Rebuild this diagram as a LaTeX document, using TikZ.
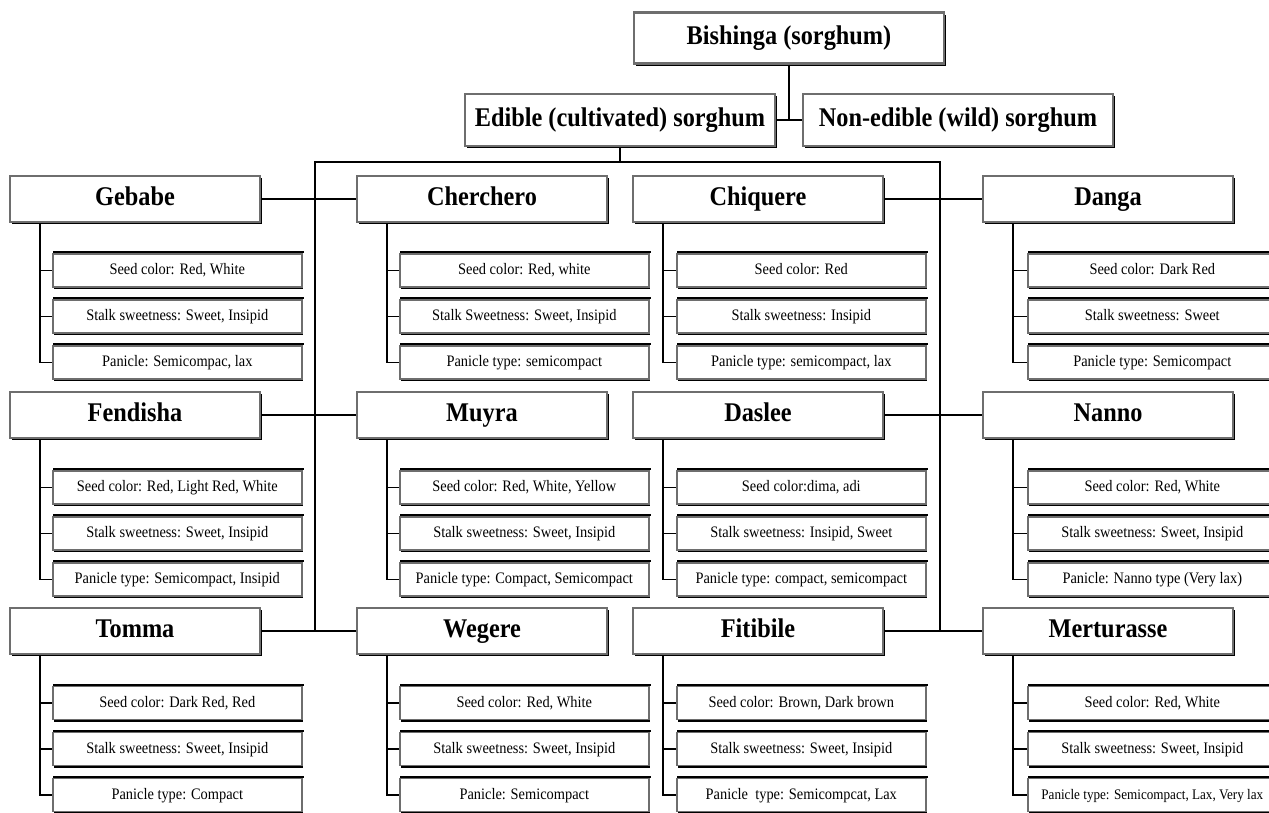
\documentclass[tikz,border=0pt]{standalone}
\usepackage{fontspec}
\setmainfont{Liberation Serif}[FakeStretch=0.9]
\usetikzlibrary{shadows}
\definecolor{boxgray}{RGB}{110,110,110}
\tikzset{
  mainbox/.style={draw=boxgray, line width=2.2pt, fill=white, minimum width=250pt, minimum height=46pt, inner sep=0pt,
    font=\fontsize{27}{30}\selectfont\bfseries, text height=18.5pt, text depth=6pt,
    drop shadow={shadow xshift=2.4pt, shadow yshift=-2.4pt, fill=black, opacity=1}},
  topbox/.style={mainbox, minimum width=310pt, minimum height=51pt},
  subbox/.style={draw=boxgray, line width=1.6pt, fill=white, minimum width=249pt, minimum height=33pt, inner sep=0pt,
    font=\fontsize{16}{18}\selectfont, anchor=west, text height=12pt, text depth=3.5pt,
    drop shadow={shadow xshift=1.5pt, shadow yshift=-2.4pt, fill=black, opacity=1},
    append after command={\pgfextra{\draw[black, line width=2pt] ([xshift=1pt,yshift=1pt]\tikzlastnode.north west) -- ([xshift=1pt,yshift=1pt]\tikzlastnode.north east);}}},
  conn/.style={draw=black, line width=1.2pt}
}
\begin{document}
\begin{tikzpicture}[x=1pt,y=-1pt]
\clip (0,0) rectangle (1269,813);
\fill[white] (0,0) rectangle (1269,813);
% top level
\node[topbox] (bish) at (789,38) {Bishinga (sorghum)};
\node[topbox, minimum height=52pt] (edible) at (620,120) {Edible (cultivated) sorghum};
\node[topbox, minimum height=52pt] (nonedible) at (958,120) {Non-edible (wild) sorghum};
% row 1
\node[mainbox] (gebabe) at (135,199) {Gebabe};
\node[mainbox] (cherchero) at (482,199) {Cherchero};
\node[mainbox] (chiquere) at (758,199) {Chiquere};
\node[mainbox] (danga) at (1108,199) {Danga};
% row 2
\node[mainbox] (fendisha) at (135,415) {Fendisha};
\node[mainbox] (muyra) at (482,415) {Muyra};
\node[mainbox] (daslee) at (758,415) {Daslee};
\node[mainbox] (nanno) at (1108,415) {Nanno};
% row 3
\node[mainbox] (tomma) at (135,631) {Tomma};
\node[mainbox] (wegere) at (482,631) {Wegere};
\node[mainbox] (fitibile) at (758,631) {Fitibile};
\node[mainbox] (merturasse) at (1108,631) {Merturasse};
% sub boxes row 1
\node[subbox] (gebabeA) at (52,270.5) {Seed color: Red, White};
\node[subbox] (gebabeB) at (52,316.5) {Stalk sweetness: Sweet, Insipid};
\node[subbox] (gebabeC) at (52,362.5) {Panicle: Semicompac, lax};
\node[subbox] (chercheroA) at (399,270.5) {Seed color: Red, white};
\node[subbox] (chercheroB) at (399,316.5) {Stalk Sweetness: Sweet, Insipid};
\node[subbox] (chercheroC) at (399,362.5) {Panicle type: semicompact};
\node[subbox] (chiquereA) at (676,270.5) {Seed color: Red};
\node[subbox] (chiquereB) at (676,316.5) {Stalk sweetness: Insipid};
\node[subbox] (chiquereC) at (676,362.5) {Panicle type: semicompact, lax};
\node[subbox] (dangaA) at (1027,270.5) {Seed color: Dark Red};
\node[subbox] (dangaB) at (1027,316.5) {Stalk sweetness: Sweet};
\node[subbox] (dangaC) at (1027,362.5) {Panicle type: Semicompact};
% sub boxes row 2
\node[subbox] (fendishaA) at (52,487.5) {Seed color: Red, Light Red, White};
\node[subbox] (fendishaB) at (52,533.5) {Stalk sweetness: Sweet, Insipid};
\node[subbox] (fendishaC) at (52,579.5) {Panicle type: Semicompact, Insipid};
\node[subbox] (muyraA) at (399,487.5) {Seed color: Red, White, Yellow};
\node[subbox] (muyraB) at (399,533.5) {Stalk sweetness: Sweet, Insipid};
\node[subbox] (muyraC) at (399,579.5) {Panicle type: Compact, Semicompact};
\node[subbox] (dasleeA) at (676,487.5) {Seed color:dima, adi};
\node[subbox] (dasleeB) at (676,533.5) {Stalk sweetness: Insipid, Sweet};
\node[subbox] (dasleeC) at (676,579.5) {Panicle type: compact, semicompact};
\node[subbox] (nannoA) at (1027,487.5) {Seed color: Red, White};
\node[subbox] (nannoB) at (1027,533.5) {Stalk sweetness: Sweet, Insipid};
\node[subbox] (nannoC) at (1027,579.5) {Panicle: Nanno type (Very lax)};
% sub boxes row 3
\node[subbox] (tommaA) at (52,703) {Seed color: Dark Red, Red};
\node[subbox] (tommaB) at (52,749) {Stalk sweetness: Sweet, Insipid};
\node[subbox] (tommaC) at (52,795) {Panicle type: Compact};
\node[subbox] (wegereA) at (399,703) {Seed color: Red, White};
\node[subbox] (wegereB) at (399,749) {Stalk sweetness: Sweet, Insipid};
\node[subbox] (wegereC) at (399,795) {Panicle: Semicompact};
\node[subbox] (fitibileA) at (676,703) {Seed color: Brown, Dark brown};
\node[subbox] (fitibileB) at (676,749) {Stalk sweetness: Sweet, Insipid};
\node[subbox] (fitibileC) at (676,795) {Panicle~~type: Semicompcat, Lax};
\node[subbox] (merturasseA) at (1027,703) {Seed color: Red, White};
\node[subbox] (merturasseB) at (1027,749) {Stalk sweetness: Sweet, Insipid};
\node[subbox, font=\fontsize{14.6}{17}\selectfont] (merturasseC) at (1027,795) {Panicle type: Semicompact, Lax, Very lax};
% connectors top
\draw[conn] (bish.south) -- (bish.south |- edible.east);
\draw[conn] (edible.east) -- (nonedible.west);
\coordinate (busL) at (315,162);
\coordinate (busR) at (940,162);
\draw[conn] (edible.south) -- (edible.south |- busL);
\draw[conn] (busL |- tomma.east) -- (busL) -- (busR) -- (busR |- fitibile.east);
\draw[conn] (gebabe.east) -- (cherchero.west);
\draw[conn] (fendisha.east) -- (muyra.west);
\draw[conn] (tomma.east) -- (wegere.west);
\draw[conn] (chiquere.east) -- (danga.west);
\draw[conn] (daslee.east) -- (nanno.west);
\draw[conn] (fitibile.east) -- (merturasse.west);
% trees
\foreach \m in {gebabe,cherchero,chiquere,danga,fendisha,muyra,daslee,nanno,tomma,wegere,fitibile,merturasse}{
  \draw[conn] ([xshift=31pt]\m.south west) |- (\m A.west);
  \draw[conn] ([xshift=31pt]\m.south west) |- (\m B.west);
  \draw[conn] ([xshift=31pt]\m.south west) |- (\m C.west);
}
\end{tikzpicture}
\end{document}
